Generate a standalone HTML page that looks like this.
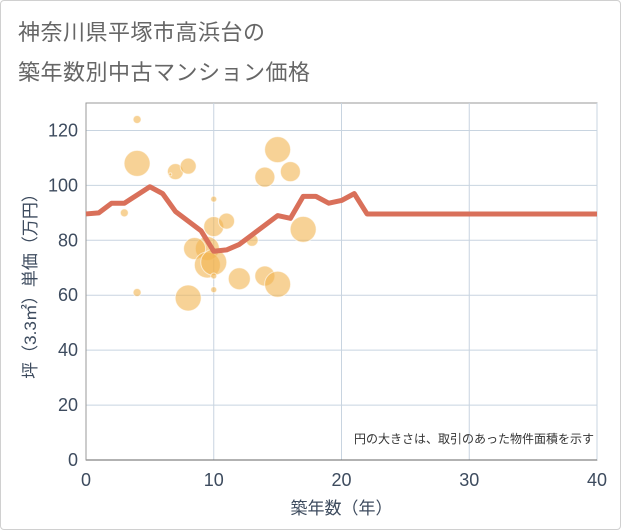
<!DOCTYPE html>
<html><head><meta charset="utf-8"><style>
body{margin:0;background:#fff;font-family:"Liberation Sans","Noto Sans CJK JP",sans-serif}
#wrap{position:relative;width:619px;height:528px;border:1px solid #d0d0d0;border-radius:4px;overflow:hidden}
.t{position:absolute;left:17px;font-size:22px;color:#666;letter-spacing:0.5px}
</style></head><body>
<div id="wrap">
<div class="t" style="top:14px">神奈川県平塚市高浜台の</div>
<div class="t" style="top:54px">築年数別中古マンション価格</div>
<svg id="chart" width="621" height="530" style="position:absolute;left:-1px;top:-1px"></svg>
</div>
<script>
const xTicks=[0,10,20,30,40];
const yTicks=[0,20,40,60,80,100,120];
const lineX=[0,1,2,3,4,5,6,7,8,9,10,11,12,13,14,15,16,17,18,19,20,21,22,23,30,40];
const lineY=[89.6,90,93.5,93.5,96.5,99.5,97,90.5,87,83.5,76,76.5,78.5,82,85.5,89,88,96,96,93.5,94.5,97,89.6,89.6,89.6,89.6];
const bubX=[4,4,7,8,6.6,3,10,10,11,9.5,8.5,9.5,10,10,12,13,14,15,14,15,16,17,4,10,8];
const bubY=[124,108,105,107,104,90,95,85,87,77,77,71,72,67,66,80,67,64,103,113,105,84,61,62,59];
const bubR=[4,13,8,8,1.5,4,3,10,8,12,11,13,13,3,11,6,10,13,10,13,10,13,4,3,13];
const L=86,R=597,T=103,B=460;
const sx=v=>L+(v-0)/40*(R-L);
const sy=v=>B-v/130*(B-T);
const svg=document.getElementById('chart');const NS='http://www.w3.org/2000/svg';
const TC='#3d4b5e';
function mk(t,a,p){const e=document.createElementNS(NS,t);for(const k in a)e.setAttribute(k,a[k]);(p||svg).appendChild(e);return e;}
let bg=mk('rect',{x:L,y:T,width:R-L,height:B-T,fill:'#fff',stroke:'#999'});


yTicks.forEach(v=>{const l=mk('line',{x1:L,x2:R,y1:sy(v),y2:sy(v),stroke:'#c8d4e0'});


const t=mk('text',{x:L-8,y:sy(v)+6,'text-anchor':'end','font-size':18,fill:TC});t.textContent=v;

});
xTicks.forEach(v=>{const l=mk('line',{x1:sx(v),x2:sx(v),y1:T,y2:B,stroke:'#c8d4e0'});


const t=mk('text',{x:sx(v),y:B+26,'text-anchor':'middle','font-size':18,fill:TC});t.textContent=v;

});
mk('line',{x1:L,x2:R,y1:B,y2:B,stroke:'#666'});
mk('line',{x1:L,x2:L,y1:T,y2:B,stroke:'#999'});
bubX.forEach((x,i)=>{const c=mk('circle',{cx:sx(x),cy:sy(bubY[i]),r:bubR[i],fill:'rgba(242,180,80,0.6)',stroke:'rgba(255,255,255,0.6)'});

});
const p=mk('polyline',{points:lineX.map((x,i)=>sx(x)+','+sy(lineY[i])).join(' '),fill:'none',stroke:'#d9705a','stroke-width':5,'stroke-linejoin':'round'});


const n=mk('text',{x:594,y:443,'text-anchor':'end','font-size':12,fill:'#333'});n.textContent='円の大きさは、取引のあった物件面積を示す';


const xt=mk('text',{x:(L+R)/2,y:514,'text-anchor':'middle','font-size':17,fill:TC});xt.textContent='築年数（年）';


const yt=mk('text',{x:0,y:0,'text-anchor':'middle','font-size':17,fill:TC,transform:'translate(36,282) rotate(-90)'});yt.textContent='坪（3.3㎡）単価（万円）';


</script>
</body></html>
